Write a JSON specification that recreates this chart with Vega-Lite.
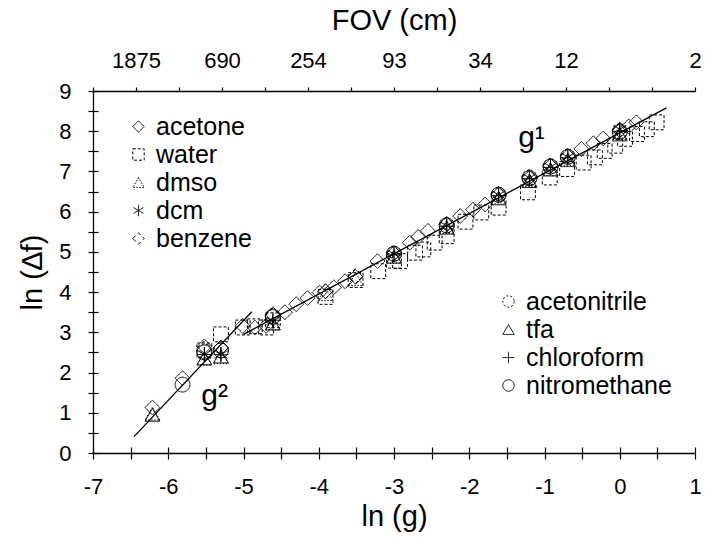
{
  "$schema": "https://vega.github.io/schema/vega-lite/v6.json",
  "width": 602,
  "height": 362,
  "autosize": "none",
  "padding": {"left": 93, "top": 91, "right": 11, "bottom": 89},
  "background": "white",
  "config": {
    "font": "Liberation Sans",
    "view": {"stroke": null},
    "axis": {
      "grid": false,
      "domainColor": "black",
      "tickColor": "black",
      "labelColor": "black",
      "titleColor": "black",
      "labelFont": "Liberation Sans",
      "titleFont": "Liberation Sans",
      "titleFontWeight": "normal",
      "domainWidth": 1.3,
      "tickWidth": 1.2,
      "labelFontSize": 22,
      "titleFontSize": 29,
      "labelOverlap": false,
      "labelFlush": false,
      "labelBound": false
    },
    "legend": {
      "labelFont": "Liberation Sans",
      "labelFontSize": 25,
      "labelColor": "black",
      "symbolStrokeColor": "black",
      "symbolFillColor": "transparent",
      "symbolStrokeWidth": 1,
      "symbolOpacity": 1,
      "symbolSize": 130,
      "rowPadding": 2,
      "labelOffset": 5,
      "padding": 0
    }
  },
  "datasets": {
    "fit": [
      {"segment": "g2", "lng": -6.455, "lndf": 0.406},
      {"segment": "g2", "lng": -4.89, "lndf": 3.51},
      {"segment": "g1", "lng": -5.0, "lndf": 2.95},
      {"segment": "g1", "lng": 0.62, "lndf": 8.58}
    ],
    "notes": [
      {"text": "g¹", "lng": -1.35, "lndf": 7.62},
      {"text": "g²", "lng": -5.56, "lndf": 1.2}
    ],
    "pts": [
      {"group": "A", "solvent": "acetone", "lng": -6.21, "lndf": 1.13},
      {"group": "A", "solvent": "acetone", "lng": -5.81, "lndf": 1.86},
      {"group": "A", "solvent": "acetone", "lng": -5.52, "lndf": 2.65},
      {"group": "A", "solvent": "acetone", "lng": -5.3, "lndf": 2.62},
      {"group": "A", "solvent": "acetone", "lng": -5.01, "lndf": 3.16},
      {"group": "A", "solvent": "acetone", "lng": -4.85, "lndf": 3.12},
      {"group": "A", "solvent": "acetone", "lng": -4.7, "lndf": 3.16},
      {"group": "A", "solvent": "acetone", "lng": -4.61, "lndf": 3.45},
      {"group": "A", "solvent": "acetone", "lng": -4.45, "lndf": 3.5},
      {"group": "A", "solvent": "acetone", "lng": -4.3, "lndf": 3.7},
      {"group": "A", "solvent": "acetone", "lng": -4.15, "lndf": 3.85},
      {"group": "A", "solvent": "acetone", "lng": -3.99, "lndf": 3.99},
      {"group": "A", "solvent": "acetone", "lng": -3.91, "lndf": 4.02},
      {"group": "A", "solvent": "acetone", "lng": -3.8, "lndf": 4.12},
      {"group": "A", "solvent": "acetone", "lng": -3.65, "lndf": 4.27},
      {"group": "A", "solvent": "acetone", "lng": -3.51, "lndf": 4.38},
      {"group": "A", "solvent": "acetone", "lng": -3.22, "lndf": 4.77},
      {"group": "A", "solvent": "acetone", "lng": -3.0, "lndf": 4.97},
      {"group": "A", "solvent": "acetone", "lng": -2.79, "lndf": 5.23},
      {"group": "A", "solvent": "acetone", "lng": -2.68, "lndf": 5.37},
      {"group": "A", "solvent": "acetone", "lng": -2.55, "lndf": 5.52},
      {"group": "A", "solvent": "acetone", "lng": -2.3, "lndf": 5.7},
      {"group": "A", "solvent": "acetone", "lng": -2.12, "lndf": 5.89},
      {"group": "A", "solvent": "acetone", "lng": -1.95, "lndf": 6.05},
      {"group": "A", "solvent": "acetone", "lng": -1.79, "lndf": 6.18},
      {"group": "A", "solvent": "acetone", "lng": -1.61, "lndf": 6.43},
      {"group": "A", "solvent": "acetone", "lng": -1.2, "lndf": 6.85},
      {"group": "A", "solvent": "acetone", "lng": -0.92, "lndf": 7.14},
      {"group": "A", "solvent": "acetone", "lng": -0.69, "lndf": 7.38},
      {"group": "A", "solvent": "acetone", "lng": -0.51, "lndf": 7.56},
      {"group": "A", "solvent": "acetone", "lng": -0.35, "lndf": 7.7},
      {"group": "A", "solvent": "acetone", "lng": -0.22, "lndf": 7.82},
      {"group": "A", "solvent": "acetone", "lng": 0.0, "lndf": 8.02},
      {"group": "A", "solvent": "acetone", "lng": 0.12, "lndf": 8.12},
      {"group": "A", "solvent": "acetone", "lng": 0.22, "lndf": 8.22},
      {"group": "A", "solvent": "water", "lng": -5.52, "lndf": 2.55},
      {"group": "A", "solvent": "water", "lng": -5.3, "lndf": 2.95},
      {"group": "A", "solvent": "water", "lng": -5.01, "lndf": 3.12},
      {"group": "A", "solvent": "water", "lng": -4.85, "lndf": 3.15},
      {"group": "A", "solvent": "water", "lng": -4.7, "lndf": 3.12},
      {"group": "A", "solvent": "water", "lng": -4.61, "lndf": 3.3},
      {"group": "A", "solvent": "water", "lng": -3.91, "lndf": 3.88},
      {"group": "A", "solvent": "water", "lng": -3.51, "lndf": 4.3},
      {"group": "A", "solvent": "water", "lng": -3.21, "lndf": 4.52},
      {"group": "A", "solvent": "water", "lng": -3.0, "lndf": 4.78},
      {"group": "A", "solvent": "water", "lng": -2.92, "lndf": 4.77},
      {"group": "A", "solvent": "water", "lng": -2.72, "lndf": 4.98},
      {"group": "A", "solvent": "water", "lng": -2.61, "lndf": 5.06},
      {"group": "A", "solvent": "water", "lng": -2.46, "lndf": 5.23},
      {"group": "A", "solvent": "water", "lng": -2.3, "lndf": 5.39},
      {"group": "A", "solvent": "water", "lng": -2.05, "lndf": 5.75},
      {"group": "A", "solvent": "water", "lng": -1.84, "lndf": 5.98},
      {"group": "A", "solvent": "water", "lng": -1.61, "lndf": 6.1},
      {"group": "A", "solvent": "water", "lng": -1.22, "lndf": 6.48},
      {"group": "A", "solvent": "water", "lng": -0.93, "lndf": 6.85},
      {"group": "A", "solvent": "water", "lng": -0.7, "lndf": 7.06},
      {"group": "A", "solvent": "water", "lng": -0.48, "lndf": 7.22},
      {"group": "A", "solvent": "water", "lng": -0.33, "lndf": 7.35},
      {"group": "A", "solvent": "water", "lng": -0.2, "lndf": 7.51},
      {"group": "A", "solvent": "water", "lng": -0.06, "lndf": 7.64},
      {"group": "A", "solvent": "water", "lng": 0.07, "lndf": 7.81},
      {"group": "A", "solvent": "water", "lng": 0.23, "lndf": 7.93},
      {"group": "A", "solvent": "water", "lng": 0.36, "lndf": 8.05},
      {"group": "A", "solvent": "water", "lng": 0.49, "lndf": 8.22},
      {"group": "A", "solvent": "dmso", "lng": -6.21, "lndf": 0.98},
      {"group": "A", "solvent": "dmso", "lng": -5.52, "lndf": 2.35},
      {"group": "A", "solvent": "dmso", "lng": -5.3, "lndf": 2.38},
      {"group": "A", "solvent": "dmso", "lng": -4.61, "lndf": 3.22},
      {"group": "A", "solvent": "dmso", "lng": -3.91, "lndf": 3.95},
      {"group": "A", "solvent": "dmso", "lng": -3.51, "lndf": 4.32},
      {"group": "A", "solvent": "dmso", "lng": -3.0, "lndf": 4.88},
      {"group": "A", "solvent": "dmso", "lng": -2.3, "lndf": 5.62},
      {"group": "A", "solvent": "dmso", "lng": -1.61, "lndf": 6.35},
      {"group": "A", "solvent": "dmso", "lng": -1.2, "lndf": 6.78},
      {"group": "A", "solvent": "dmso", "lng": -0.92, "lndf": 7.05},
      {"group": "A", "solvent": "dmso", "lng": -0.69, "lndf": 7.3},
      {"group": "A", "solvent": "dmso", "lng": 0.0, "lndf": 7.95},
      {"group": "A", "solvent": "dcm", "lng": -5.52, "lndf": 2.45},
      {"group": "A", "solvent": "dcm", "lng": -5.3, "lndf": 2.45},
      {"group": "A", "solvent": "dcm", "lng": -4.61, "lndf": 3.28},
      {"group": "A", "solvent": "dcm", "lng": -3.0, "lndf": 4.95},
      {"group": "A", "solvent": "dcm", "lng": -2.3, "lndf": 5.65},
      {"group": "A", "solvent": "dcm", "lng": -1.61, "lndf": 6.42},
      {"group": "A", "solvent": "dcm", "lng": -1.2, "lndf": 6.84},
      {"group": "A", "solvent": "dcm", "lng": -0.92, "lndf": 7.12},
      {"group": "A", "solvent": "dcm", "lng": -0.69, "lndf": 7.36},
      {"group": "A", "solvent": "dcm", "lng": 0.0, "lndf": 8.05},
      {"group": "A", "solvent": "benzene", "lng": -5.52, "lndf": 2.6},
      {"group": "A", "solvent": "benzene", "lng": -5.3, "lndf": 2.62},
      {"group": "A", "solvent": "benzene", "lng": -4.61, "lndf": 3.42},
      {"group": "A", "solvent": "benzene", "lng": -3.91, "lndf": 4.02},
      {"group": "A", "solvent": "benzene", "lng": -3.51, "lndf": 4.4},
      {"group": "A", "solvent": "benzene", "lng": -3.0, "lndf": 4.97},
      {"group": "A", "solvent": "benzene", "lng": -2.3, "lndf": 5.68},
      {"group": "A", "solvent": "benzene", "lng": -1.61, "lndf": 6.45},
      {"group": "A", "solvent": "benzene", "lng": -1.2, "lndf": 6.87},
      {"group": "A", "solvent": "benzene", "lng": -0.92, "lndf": 7.15},
      {"group": "A", "solvent": "benzene", "lng": -0.69, "lndf": 7.39},
      {"group": "A", "solvent": "benzene", "lng": 0.0, "lndf": 8.03},
      {"group": "B", "solvent": "acetonitrile", "lng": -5.52, "lndf": 2.52},
      {"group": "B", "solvent": "acetonitrile", "lng": -5.3, "lndf": 2.55},
      {"group": "B", "solvent": "acetonitrile", "lng": -4.61, "lndf": 3.4},
      {"group": "B", "solvent": "acetonitrile", "lng": -3.0, "lndf": 4.96},
      {"group": "B", "solvent": "acetonitrile", "lng": -2.3, "lndf": 5.66},
      {"group": "B", "solvent": "acetonitrile", "lng": -1.61, "lndf": 6.42},
      {"group": "B", "solvent": "acetonitrile", "lng": -1.2, "lndf": 6.85},
      {"group": "B", "solvent": "acetonitrile", "lng": -0.92, "lndf": 7.13},
      {"group": "B", "solvent": "acetonitrile", "lng": -0.69, "lndf": 7.37},
      {"group": "B", "solvent": "acetonitrile", "lng": 0.0, "lndf": 8.0},
      {"group": "B", "solvent": "tfa", "lng": -6.21, "lndf": 0.95},
      {"group": "B", "solvent": "tfa", "lng": -5.52, "lndf": 2.35},
      {"group": "B", "solvent": "tfa", "lng": -5.3, "lndf": 2.4},
      {"group": "B", "solvent": "tfa", "lng": -4.61, "lndf": 3.22},
      {"group": "B", "solvent": "tfa", "lng": -3.0, "lndf": 4.88},
      {"group": "B", "solvent": "tfa", "lng": -2.3, "lndf": 5.6},
      {"group": "B", "solvent": "tfa", "lng": -1.61, "lndf": 6.33},
      {"group": "B", "solvent": "tfa", "lng": -1.2, "lndf": 6.76},
      {"group": "B", "solvent": "tfa", "lng": -0.92, "lndf": 7.05},
      {"group": "B", "solvent": "tfa", "lng": -0.69, "lndf": 7.28},
      {"group": "B", "solvent": "tfa", "lng": 0.0, "lndf": 7.92},
      {"group": "B", "solvent": "chloroform", "lng": -5.52, "lndf": 2.45},
      {"group": "B", "solvent": "chloroform", "lng": -5.3, "lndf": 2.45},
      {"group": "B", "solvent": "chloroform", "lng": -4.61, "lndf": 3.3},
      {"group": "B", "solvent": "chloroform", "lng": -3.0, "lndf": 4.93},
      {"group": "B", "solvent": "chloroform", "lng": -2.3, "lndf": 5.64},
      {"group": "B", "solvent": "chloroform", "lng": -1.61, "lndf": 6.4},
      {"group": "B", "solvent": "chloroform", "lng": -1.2, "lndf": 6.82},
      {"group": "B", "solvent": "chloroform", "lng": -0.92, "lndf": 7.1},
      {"group": "B", "solvent": "chloroform", "lng": -0.69, "lndf": 7.34},
      {"group": "B", "solvent": "chloroform", "lng": 0.0, "lndf": 8.0},
      {"group": "B", "solvent": "nitromethane", "lng": -5.81, "lndf": 1.7},
      {"group": "B", "solvent": "nitromethane", "lng": -5.52, "lndf": 2.5},
      {"group": "B", "solvent": "nitromethane", "lng": -5.3, "lndf": 2.55},
      {"group": "B", "solvent": "nitromethane", "lng": -4.61, "lndf": 3.38},
      {"group": "B", "solvent": "nitromethane", "lng": -3.0, "lndf": 4.95},
      {"group": "B", "solvent": "nitromethane", "lng": -2.3, "lndf": 5.66},
      {"group": "B", "solvent": "nitromethane", "lng": -1.61, "lndf": 6.42},
      {"group": "B", "solvent": "nitromethane", "lng": -1.2, "lndf": 6.83},
      {"group": "B", "solvent": "nitromethane", "lng": -0.92, "lndf": 7.12},
      {"group": "B", "solvent": "nitromethane", "lng": -0.69, "lndf": 7.36},
      {"group": "B", "solvent": "nitromethane", "lng": 0.0, "lndf": 7.98}
    ]
  },
  "layer": [
    {
      "data": {"name": "fit"},
      "mark": {"type": "line", "color": "black", "strokeWidth": 1.3},
      "encoding": {
        "x": {
          "field": "lng", "type": "quantitative",
          "scale": {"domain": [-7, 1], "nice": false, "zero": false},
          "axis": {
            "orient": "bottom", "title": "ln (g)",
            "values": [-7, -6.5, -6, -5.5, -5, -4.5, -4, -3.5, -3, -2.5, -2, -1.5, -1, -0.5, 0, 0.5, 1],
            "labelExpr": "datum.value % 1 === 0 ? '' + datum.value : ''",
            "tickSize": 6, "labelPadding": 17, "titlePadding": 5
          }
        },
        "y": {
          "field": "lndf", "type": "quantitative",
          "scale": {"domain": [0, 9], "nice": false, "zero": false},
          "axis": {
            "orient": "left", "title": "ln (∆f)",
            "values": [0, 0.5, 1, 1.5, 2, 2.5, 3, 3.5, 4, 4.5, 5, 5.5, 6, 6.5, 7, 7.5, 8, 8.5, 9],
            "labelExpr": "datum.value % 1 === 0 ? '' + datum.value : ''",
            "tickSize": 5, "labelPadding": 17, "titlePadding": 11
          }
        },
        "detail": {"field": "segment"}
      }
    },
    {
      "data": {"name": "fit"},
      "mark": {"type": "line", "opacity": 0},
      "encoding": {
        "x": {
          "field": "lng", "type": "quantitative",
          "scale": {"domain": [-7, 1], "nice": false, "zero": false},
          "axis": {
            "orient": "bottom", "title": null, "labels": false, "domain": false,
            "values": [-7, -6.5, -6, -5.5, -5, -4.5, -4, -3.5, -3, -2.5, -2, -1.5, -1, -0.5, 0, 0.5, 1],
            "tickSize": -6
          }
        },
        "y": {
          "field": "lndf", "type": "quantitative",
          "scale": {"domain": [0, 9], "nice": false, "zero": false},
          "axis": {
            "orient": "left", "title": null, "labels": false, "domain": false,
            "values": [0, 0.5, 1, 1.5, 2, 2.5, 3, 3.5, 4, 4.5, 5, 5.5, 6, 6.5, 7, 7.5, 8, 8.5, 9],
            "tickSize": -5
          }
        },
        "detail": {"field": "segment"}
      }
    },
    {
      "data": {"name": "fit"},
      "mark": {"type": "line", "opacity": 0},
      "encoding": {
        "x": {
          "field": "lng", "type": "quantitative",
          "scale": {"domain": [-7, 1], "nice": false, "zero": false},
          "axis": {
            "orient": "top", "title": "FOV (cm)",
            "values": [-7, -6.4286, -5.8571, -5.2857, -4.7143, -4.1429, -3.5714, -3.0, -2.4286, -1.8571, -1.2857, -0.7143, -0.1429, 0.4286, 1.0],
            "labelExpr": "abs(datum.value + 6.4286) < 0.01 ? '1875' : abs(datum.value + 5.2857) < 0.01 ? '690' : abs(datum.value + 4.1429) < 0.01 ? '254' : abs(datum.value + 3) < 0.01 ? '93' : abs(datum.value + 1.8571) < 0.01 ? '34' : abs(datum.value + 0.7143) < 0.01 ? '12' : abs(datum.value - 1) < 0.01 ? '2' : ''",
            "tickSize": 4, "labelPadding": 15, "titlePadding": 14
          }
        },
        "y": {
          "field": "lndf", "type": "quantitative",
          "scale": {"domain": [0, 9], "nice": false, "zero": false},
          "axis": null
        },
        "detail": {"field": "segment"}
      }
    },
    {
      "data": {"name": "pts"},
      "transform": [{"filter": "datum.group === 'A'"}],
      "mark": {"type": "point", "filled": false, "color": "black", "opacity": 1, "strokeWidth": 1, "size": 220},
      "encoding": {
        "x": {"field": "lng", "type": "quantitative", "scale": {"domain": [-7, 1], "nice": false, "zero": false}, "axis": null},
        "y": {"field": "lndf", "type": "quantitative", "scale": {"domain": [0, 9], "nice": false, "zero": false}, "axis": null},
        "shape": {
          "field": "solvent", "type": "nominal",
          "scale": {
            "domain": ["acetone", "water", "dmso", "dcm", "benzene"],
            "range": ["diamond", "square", "triangle-up", "M0,-1L0,1M-0.87,-0.5L0.87,0.5M-0.87,0.5L0.87,-0.5", "diamond"]
          },
          "legend": {"title": null, "orient": "none", "legendX": 33, "legendY": 23}
        },
        "strokeDash": {
          "field": "solvent", "type": "nominal",
          "scale": {
            "domain": ["acetone", "water", "dmso", "dcm", "benzene"],
            "range": [[1, 0], [3, 2], [1.5, 1.5], [1, 0], [4, 3]]
          },
          "legend": {"title": null, "orient": "none", "legendX": 33, "legendY": 23}
        }
      }
    },
    {
      "data": {"name": "pts"},
      "transform": [{"filter": "datum.group === 'B'"}],
      "mark": {"type": "point", "filled": false, "color": "black", "opacity": 1, "strokeWidth": 1, "size": 220},
      "encoding": {
        "x": {"field": "lng", "type": "quantitative", "scale": {"domain": [-7, 1], "nice": false, "zero": false}, "axis": null},
        "y": {"field": "lndf", "type": "quantitative", "scale": {"domain": [0, 9], "nice": false, "zero": false}, "axis": null},
        "shape": {
          "field": "solvent", "type": "nominal",
          "scale": {
            "domain": ["acetonitrile", "tfa", "chloroform", "nitromethane"],
            "range": ["circle", "triangle-up", "M-1,0L1,0M0,-1L0,1", "circle"]
          },
          "legend": {"title": null, "orient": "none", "legendX": 403, "legendY": 198}
        },
        "strokeDash": {
          "field": "solvent", "type": "nominal",
          "scale": {
            "domain": ["acetonitrile", "tfa", "chloroform", "nitromethane"],
            "range": [[2, 2], [1, 0], [1, 0], [1, 0]]
          },
          "legend": {"title": null, "orient": "none", "legendX": 403, "legendY": 198}
        }
      }
    },
    {
      "data": {"name": "notes"},
      "mark": {"type": "text", "align": "left", "baseline": "alphabetic", "fontSize": 30, "font": "Liberation Sans", "color": "black"},
      "encoding": {
        "x": {"field": "lng", "type": "quantitative", "scale": {"domain": [-7, 1], "nice": false, "zero": false}, "axis": null},
        "y": {"field": "lndf", "type": "quantitative", "scale": {"domain": [0, 9], "nice": false, "zero": false}, "axis": null},
        "text": {"field": "text"}
      }
    }
  ],
  "resolve": {
    "axis": {"x": "independent", "y": "independent"},
    "scale": {"shape": "independent", "strokeDash": "independent"},
    "legend": {"shape": "independent", "strokeDash": "independent"}
  }
}
